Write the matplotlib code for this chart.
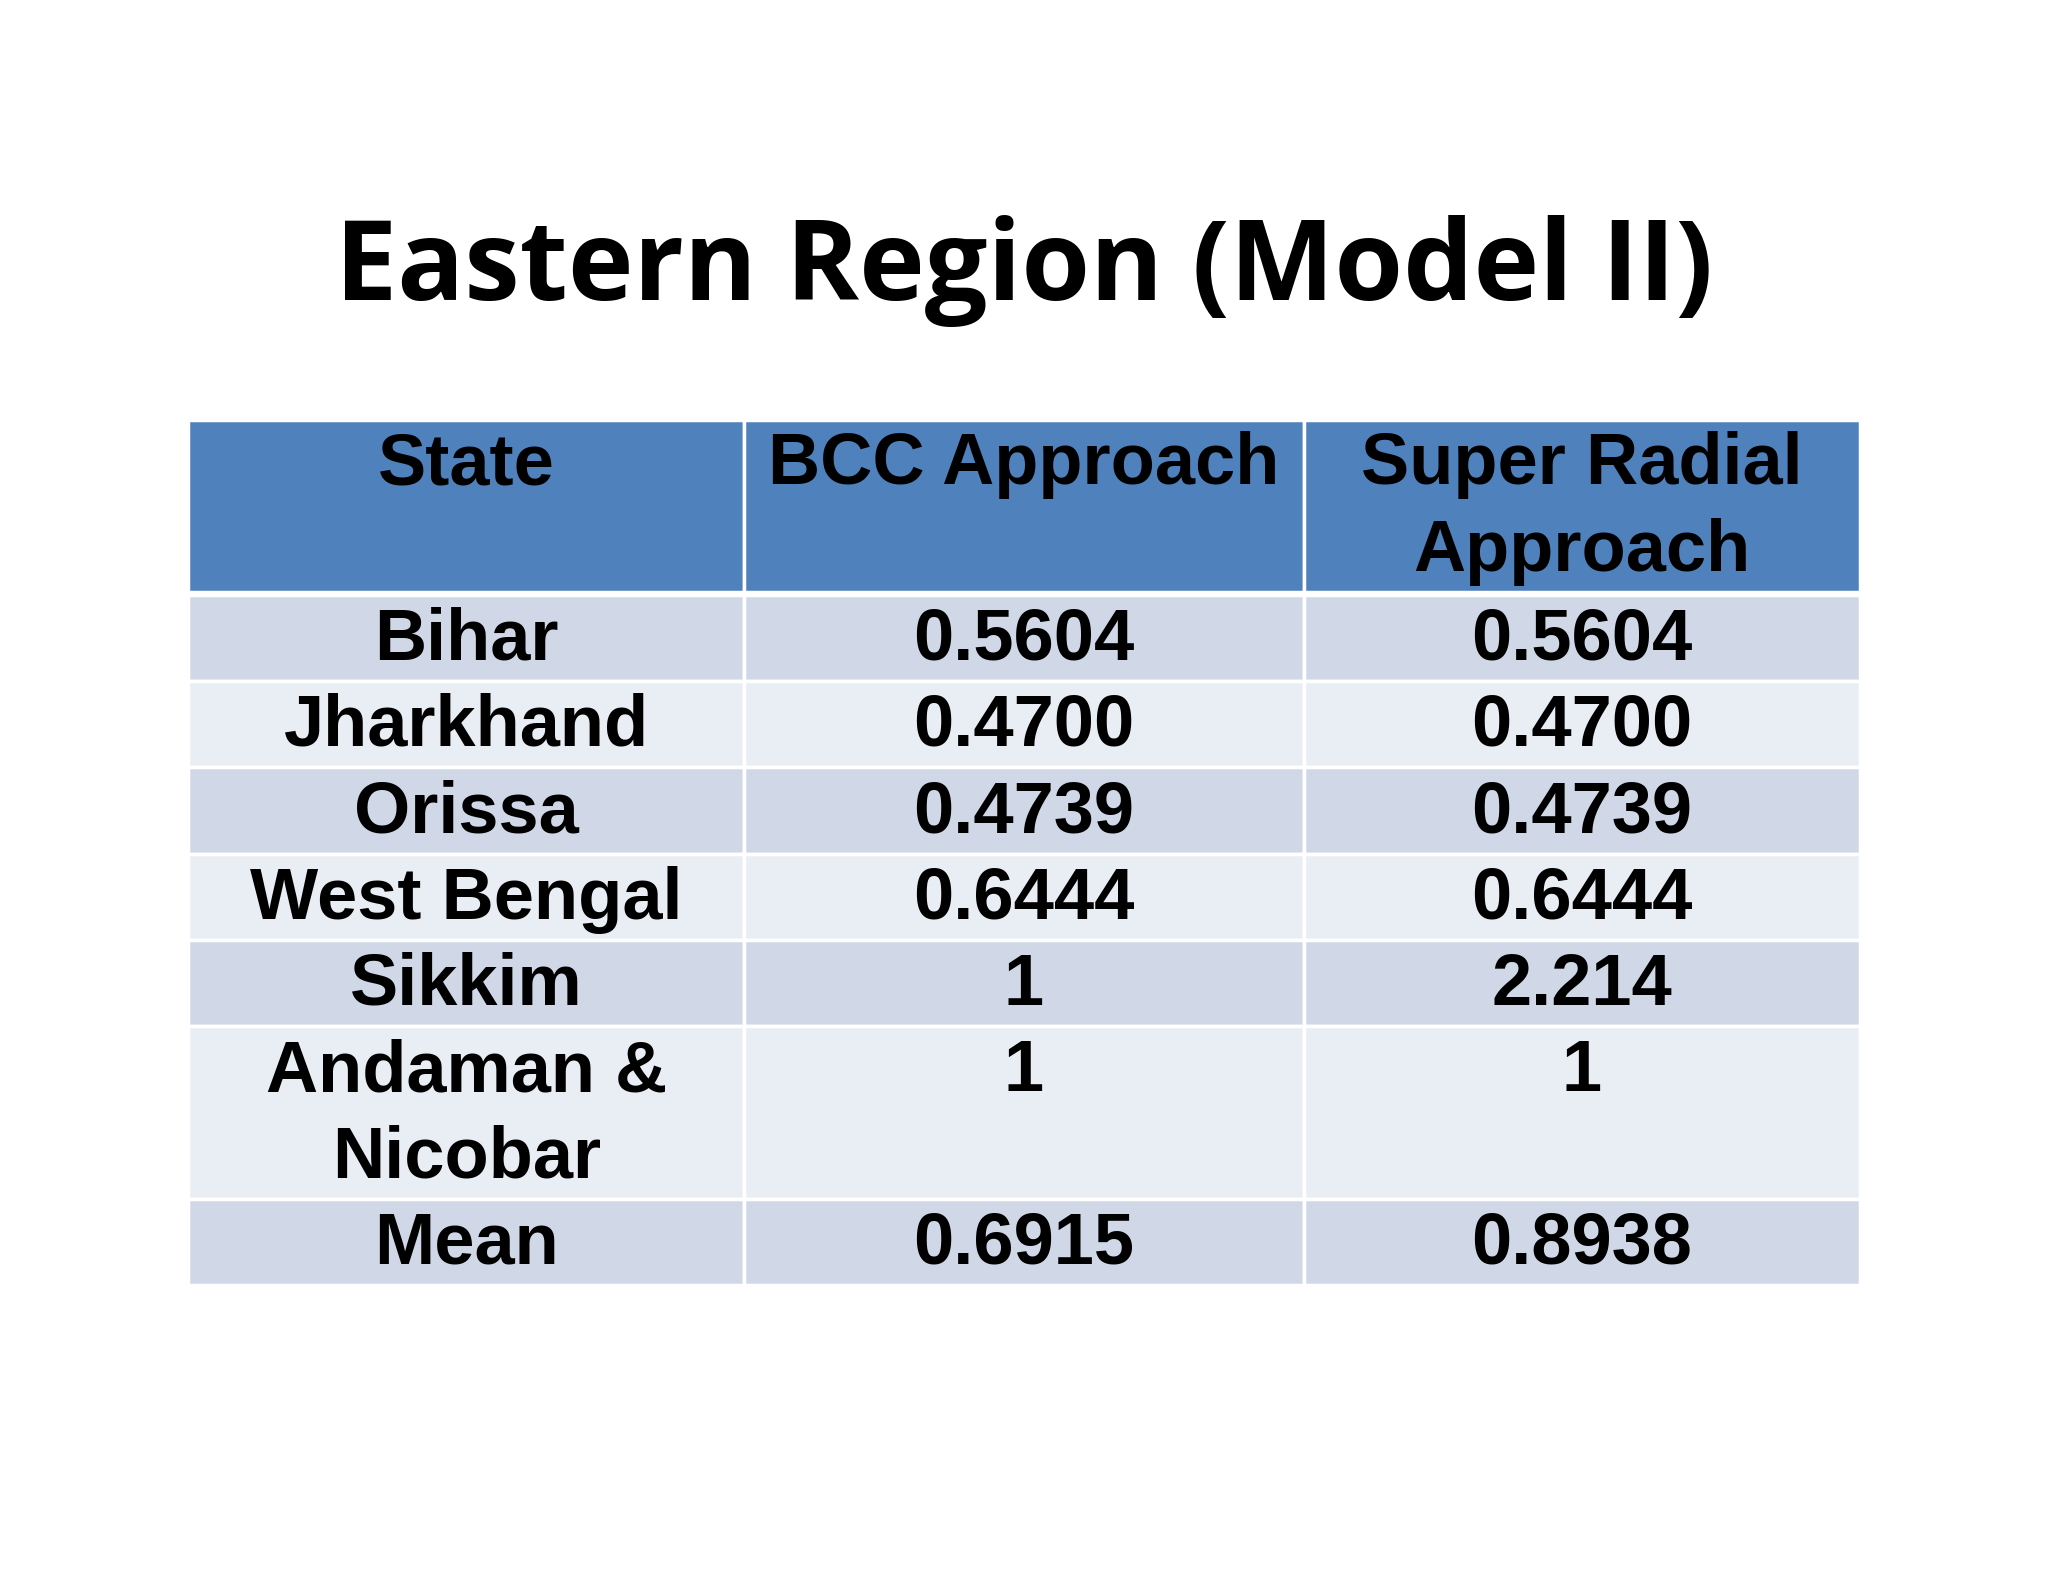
import matplotlib
matplotlib.use("Agg")
import matplotlib.pyplot as plt
from matplotlib.patches import Rectangle

title = "Eastern Region (Model II)"
headers = [["State"], ["BCC Approach"], ["Super Radial", "Approach"]]
states = [["Bihar"], ["Jharkhand"], ["Orissa"], ["West Bengal"], ["Sikkim"], ["Andaman &", "Nicobar"], ["Mean"]]
bcc = ["0.5604", "0.4700", "0.4739", "0.6444", "1", "1", "0.6915"]
super_radial = ["0.5604", "0.4700", "0.4739", "0.6444", "2.214", "1", "0.8938"]

fig = plt.figure(figsize=(20.48, 15.82), dpi=100)
ax = fig.add_axes([0, 0, 1, 1])
ax.set_xlim(0, 1568); ax.set_ylim(1210, 0); ax.axis("off")

ax.text(784, 207, title, ha="center", va="center", fontsize=80, fontweight="bold", family="Open Sans")

cols = [144, 570, 998, 1424]
line_h = 66
font = dict(family="Liberation Sans", fontweight="bold", fontsize=52, ha="center", va="center")

def draw_row(top, cells, color, nlines):
    h = nlines * line_h
    for i, lines in enumerate(cells):
        ax.add_patch(Rectangle((cols[i], top), cols[i+1]-cols[i], h, facecolor=color, edgecolor="white", lw=2.5))
        cx = (cols[i] + cols[i+1]) / 2
        for j, t in enumerate(lines):
            ax.text(cx, top + 35 + j * line_h, t, **font)
    return top + h

top = 321
top = draw_row(top, headers, "#4F81BD", 2) + 2
for k in range(len(states)):
    n = max(len(states[k]), 1)
    color = "#D0D8E8" if k % 2 == 0 else "#E9EDF4"
    top = draw_row(top, [states[k], [bcc[k]], [super_radial[k]]], color, n)

fig.savefig("out.png", dpi=100, facecolor="white")
